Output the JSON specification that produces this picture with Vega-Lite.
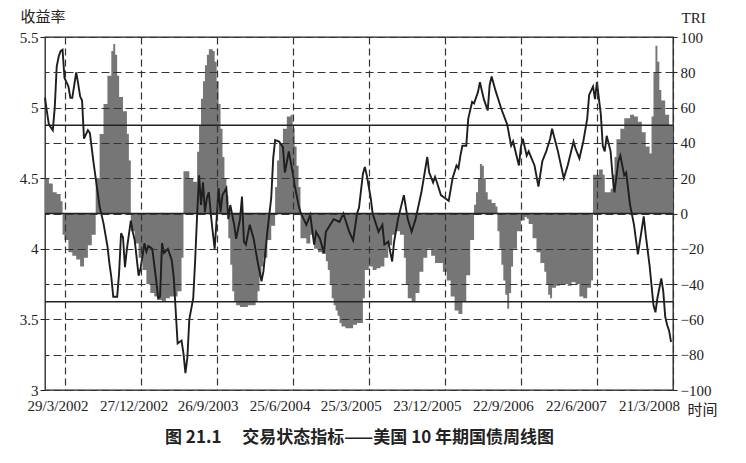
{
  "$schema": "https://vega.github.io/schema/vega-lite/v6.json",
  "width": 628,
  "height": 353,
  "autosize": {"type": "none"},
  "padding": {"left": 45, "top": 37, "right": 73, "bottom": 73},
  "background": "white",
  "title": {
    "text": "图 21.1　 交易状态指标——美国 10 年期国债周线图",
    "orient": "bottom",
    "anchor": "start",
    "frame": "group",
    "dx": 120,
    "offset": 13,
    "font": "Noto Sans CJK SC",
    "fontSize": 17,
    "fontWeight": "bold",
    "color": "#222"
  },
  "datasets": {
    "yield": [
      {"d": "2002-01-18", "v": 5.07}, {"d": "2002-01-25", "v": 4.97}, {"d": "2002-02-01", "v": 4.88},
      {"d": "2002-02-15", "v": 4.84}, {"d": "2002-02-22", "v": 5.00}, {"d": "2002-03-01", "v": 5.29},
      {"d": "2002-03-08", "v": 5.36}, {"d": "2002-03-15", "v": 5.40}, {"d": "2002-03-22", "v": 5.41},
      {"d": "2002-03-29", "v": 5.21}, {"d": "2002-04-05", "v": 5.18}, {"d": "2002-04-12", "v": 5.15},
      {"d": "2002-04-19", "v": 5.07}, {"d": "2002-04-26", "v": 5.07}, {"d": "2002-05-10", "v": 5.25},
      {"d": "2002-05-17", "v": 5.17}, {"d": "2002-05-24", "v": 5.08}, {"d": "2002-05-31", "v": 5.05},
      {"d": "2002-06-07", "v": 4.78}, {"d": "2002-06-21", "v": 4.84}, {"d": "2002-06-28", "v": 4.82},
      {"d": "2002-07-12", "v": 4.60}, {"d": "2002-07-26", "v": 4.40}, {"d": "2002-08-02", "v": 4.30},
      {"d": "2002-08-16", "v": 4.18}, {"d": "2002-08-30", "v": 4.02}, {"d": "2002-09-06", "v": 3.90},
      {"d": "2002-09-13", "v": 3.80}, {"d": "2002-09-20", "v": 3.66}, {"d": "2002-10-04", "v": 3.66},
      {"d": "2002-10-11", "v": 3.83}, {"d": "2002-10-18", "v": 4.11}, {"d": "2002-10-25", "v": 4.08},
      {"d": "2002-11-01", "v": 3.87}, {"d": "2002-11-08", "v": 4.00}, {"d": "2002-11-22", "v": 4.20},
      {"d": "2002-11-29", "v": 4.12}, {"d": "2002-12-06", "v": 4.06}, {"d": "2002-12-20", "v": 3.81},
      {"d": "2002-12-27", "v": 3.86}, {"d": "2003-01-10", "v": 4.04}, {"d": "2003-01-17", "v": 3.98},
      {"d": "2003-01-24", "v": 4.02}, {"d": "2003-02-07", "v": 4.00}, {"d": "2003-02-21", "v": 3.78},
      {"d": "2003-02-28", "v": 3.65}, {"d": "2003-03-07", "v": 3.66}, {"d": "2003-03-14", "v": 4.04},
      {"d": "2003-03-21", "v": 3.97}, {"d": "2003-04-04", "v": 4.00}, {"d": "2003-04-18", "v": 3.92},
      {"d": "2003-04-25", "v": 3.80}, {"d": "2003-05-09", "v": 3.33}, {"d": "2003-05-23", "v": 3.35},
      {"d": "2003-05-30", "v": 3.26}, {"d": "2003-06-06", "v": 3.12}, {"d": "2003-06-13", "v": 3.23},
      {"d": "2003-06-20", "v": 3.50}, {"d": "2003-07-04", "v": 3.65}, {"d": "2003-07-11", "v": 3.92},
      {"d": "2003-07-18", "v": 4.24}, {"d": "2003-07-25", "v": 4.52}, {"d": "2003-08-01", "v": 4.31},
      {"d": "2003-08-08", "v": 4.47}, {"d": "2003-08-15", "v": 4.26}, {"d": "2003-08-22", "v": 4.36},
      {"d": "2003-08-29", "v": 4.40}, {"d": "2003-09-05", "v": 4.25}, {"d": "2003-09-12", "v": 4.12},
      {"d": "2003-09-19", "v": 4.00}, {"d": "2003-09-26", "v": 4.21}, {"d": "2003-10-03", "v": 4.43},
      {"d": "2003-10-10", "v": 4.26}, {"d": "2003-10-17", "v": 4.38}, {"d": "2003-10-31", "v": 4.43},
      {"d": "2003-11-07", "v": 4.21}, {"d": "2003-11-14", "v": 4.31}, {"d": "2003-11-28", "v": 4.17},
      {"d": "2003-12-05", "v": 4.07}, {"d": "2003-12-19", "v": 4.21}, {"d": "2003-12-26", "v": 4.37},
      {"d": "2004-01-02", "v": 4.05}, {"d": "2004-01-09", "v": 4.03}, {"d": "2004-01-23", "v": 4.17},
      {"d": "2004-02-06", "v": 4.07}, {"d": "2004-02-20", "v": 3.91}, {"d": "2004-03-05", "v": 3.77},
      {"d": "2004-03-12", "v": 3.84}, {"d": "2004-03-26", "v": 4.12}, {"d": "2004-04-09", "v": 4.36},
      {"d": "2004-04-16", "v": 4.64}, {"d": "2004-04-23", "v": 4.77}, {"d": "2004-05-07", "v": 4.76},
      {"d": "2004-05-21", "v": 4.72}, {"d": "2004-05-28", "v": 4.54}, {"d": "2004-06-11", "v": 4.69},
      {"d": "2004-06-25", "v": 4.54}, {"d": "2004-07-02", "v": 4.45}, {"d": "2004-07-16", "v": 4.31},
      {"d": "2004-07-23", "v": 4.26}, {"d": "2004-08-13", "v": 4.17}, {"d": "2004-08-27", "v": 4.24},
      {"d": "2004-09-10", "v": 4.03}, {"d": "2004-09-17", "v": 4.12}, {"d": "2004-10-01", "v": 4.07},
      {"d": "2004-10-15", "v": 3.97}, {"d": "2004-10-22", "v": 4.12}, {"d": "2004-11-19", "v": 4.21},
      {"d": "2004-12-10", "v": 4.19}, {"d": "2004-12-24", "v": 4.25}, {"d": "2005-01-14", "v": 4.12},
      {"d": "2005-01-28", "v": 4.06}, {"d": "2005-02-11", "v": 4.25}, {"d": "2005-02-18", "v": 4.29},
      {"d": "2005-03-04", "v": 4.53}, {"d": "2005-03-11", "v": 4.58}, {"d": "2005-03-18", "v": 4.52},
      {"d": "2005-04-01", "v": 4.36}, {"d": "2005-04-08", "v": 4.25}, {"d": "2005-04-29", "v": 4.12},
      {"d": "2005-05-13", "v": 4.17}, {"d": "2005-05-20", "v": 4.03}, {"d": "2005-06-03", "v": 4.05},
      {"d": "2005-06-17", "v": 3.91}, {"d": "2005-06-24", "v": 4.05}, {"d": "2005-07-08", "v": 4.21},
      {"d": "2005-07-29", "v": 4.38}, {"d": "2005-08-12", "v": 4.21}, {"d": "2005-08-26", "v": 4.12},
      {"d": "2005-09-09", "v": 4.21}, {"d": "2005-09-30", "v": 4.40}, {"d": "2005-10-21", "v": 4.65},
      {"d": "2005-10-28", "v": 4.54}, {"d": "2005-11-11", "v": 4.47}, {"d": "2005-11-18", "v": 4.51},
      {"d": "2005-11-25", "v": 4.47}, {"d": "2005-12-09", "v": 4.38}, {"d": "2005-12-23", "v": 4.36},
      {"d": "2006-01-06", "v": 4.34}, {"d": "2006-01-20", "v": 4.50}, {"d": "2006-02-03", "v": 4.59},
      {"d": "2006-02-10", "v": 4.57}, {"d": "2006-02-17", "v": 4.66}, {"d": "2006-02-24", "v": 4.73},
      {"d": "2006-03-10", "v": 4.73}, {"d": "2006-03-17", "v": 4.92}, {"d": "2006-03-31", "v": 5.04},
      {"d": "2006-04-07", "v": 5.03}, {"d": "2006-04-21", "v": 5.11}, {"d": "2006-04-28", "v": 5.18},
      {"d": "2006-05-12", "v": 5.06}, {"d": "2006-05-26", "v": 4.98}, {"d": "2006-06-02", "v": 5.16},
      {"d": "2006-06-09", "v": 5.22}, {"d": "2006-06-23", "v": 5.12}, {"d": "2006-07-14", "v": 4.99},
      {"d": "2006-08-04", "v": 4.88}, {"d": "2006-08-18", "v": 4.73}, {"d": "2006-08-25", "v": 4.76},
      {"d": "2006-09-15", "v": 4.59}, {"d": "2006-09-22", "v": 4.72}, {"d": "2006-09-29", "v": 4.78},
      {"d": "2006-10-13", "v": 4.66}, {"d": "2006-10-20", "v": 4.69}, {"d": "2006-11-10", "v": 4.59},
      {"d": "2006-11-24", "v": 4.44}, {"d": "2006-12-08", "v": 4.62}, {"d": "2006-12-22", "v": 4.69},
      {"d": "2007-01-05", "v": 4.78}, {"d": "2007-01-12", "v": 4.85}, {"d": "2007-02-02", "v": 4.69},
      {"d": "2007-02-23", "v": 4.50}, {"d": "2007-03-09", "v": 4.59}, {"d": "2007-03-30", "v": 4.76},
      {"d": "2007-04-06", "v": 4.71}, {"d": "2007-04-20", "v": 4.64}, {"d": "2007-05-04", "v": 4.76},
      {"d": "2007-05-18", "v": 4.92}, {"d": "2007-05-25", "v": 5.09}, {"d": "2007-06-08", "v": 5.15},
      {"d": "2007-06-15", "v": 5.06}, {"d": "2007-06-22", "v": 5.18}, {"d": "2007-07-06", "v": 4.95},
      {"d": "2007-07-13", "v": 4.73}, {"d": "2007-07-20", "v": 4.69}, {"d": "2007-07-27", "v": 4.80},
      {"d": "2007-08-10", "v": 4.69}, {"d": "2007-08-17", "v": 4.52}, {"d": "2007-08-24", "v": 4.40},
      {"d": "2007-09-07", "v": 4.62}, {"d": "2007-09-14", "v": 4.66}, {"d": "2007-09-28", "v": 4.52},
      {"d": "2007-10-05", "v": 4.54}, {"d": "2007-10-19", "v": 4.31}, {"d": "2007-11-02", "v": 4.17},
      {"d": "2007-11-16", "v": 3.96}, {"d": "2007-12-07", "v": 4.23}, {"d": "2007-12-14", "v": 4.10},
      {"d": "2007-12-28", "v": 3.88}, {"d": "2008-01-11", "v": 3.60}, {"d": "2008-01-18", "v": 3.55},
      {"d": "2008-01-25", "v": 3.65}, {"d": "2008-02-08", "v": 3.79}, {"d": "2008-02-15", "v": 3.70},
      {"d": "2008-02-22", "v": 3.52}, {"d": "2008-02-29", "v": 3.46}, {"d": "2008-03-07", "v": 3.42},
      {"d": "2008-03-14", "v": 3.34}
    ],
    "tri": [
      {"d": "2002-01-18", "v": 20}, {"d": "2002-02-01", "v": 17}, {"d": "2002-02-15", "v": 12},
      {"d": "2002-03-01", "v": 11}, {"d": "2002-03-15", "v": 7}, {"d": "2002-03-22", "v": -12},
      {"d": "2002-03-29", "v": -15}, {"d": "2002-04-12", "v": -22}, {"d": "2002-04-26", "v": -24},
      {"d": "2002-05-10", "v": -26}, {"d": "2002-05-24", "v": -30}, {"d": "2002-06-07", "v": -25},
      {"d": "2002-06-21", "v": -18}, {"d": "2002-07-05", "v": -12}, {"d": "2002-07-19", "v": 20},
      {"d": "2002-08-02", "v": 45}, {"d": "2002-08-16", "v": 62}, {"d": "2002-08-30", "v": 78},
      {"d": "2002-09-13", "v": 92}, {"d": "2002-09-20", "v": 96}, {"d": "2002-09-27", "v": 90},
      {"d": "2002-10-04", "v": 78}, {"d": "2002-10-11", "v": 66}, {"d": "2002-10-25", "v": 58},
      {"d": "2002-11-08", "v": 45}, {"d": "2002-11-15", "v": 30}, {"d": "2002-11-22", "v": -10},
      {"d": "2002-12-06", "v": -17}, {"d": "2002-12-20", "v": -25}, {"d": "2003-01-03", "v": -32},
      {"d": "2003-01-17", "v": -40}, {"d": "2003-01-31", "v": -45}, {"d": "2003-02-14", "v": -47},
      {"d": "2003-02-28", "v": -49}, {"d": "2003-03-14", "v": -50}, {"d": "2003-03-28", "v": -48},
      {"d": "2003-04-11", "v": -47}, {"d": "2003-04-25", "v": -47}, {"d": "2003-05-09", "v": -44},
      {"d": "2003-05-23", "v": -25}, {"d": "2003-05-30", "v": 24}, {"d": "2003-06-20", "v": 20},
      {"d": "2003-07-04", "v": 18}, {"d": "2003-07-18", "v": 35}, {"d": "2003-07-25", "v": 50},
      {"d": "2003-08-01", "v": 65}, {"d": "2003-08-08", "v": 75}, {"d": "2003-08-15", "v": 84},
      {"d": "2003-08-22", "v": 90}, {"d": "2003-08-29", "v": 93}, {"d": "2003-09-12", "v": 92},
      {"d": "2003-09-19", "v": 86}, {"d": "2003-09-26", "v": 75}, {"d": "2003-10-03", "v": 62},
      {"d": "2003-10-10", "v": 48}, {"d": "2003-10-17", "v": 32}, {"d": "2003-10-24", "v": 20},
      {"d": "2003-10-31", "v": 10}, {"d": "2003-11-07", "v": -14}, {"d": "2003-11-14", "v": -29},
      {"d": "2003-11-21", "v": -44}, {"d": "2003-11-28", "v": -50}, {"d": "2003-12-05", "v": -52},
      {"d": "2003-12-19", "v": -53}, {"d": "2004-01-02", "v": -53}, {"d": "2004-01-16", "v": -52},
      {"d": "2004-01-30", "v": -52}, {"d": "2004-02-13", "v": -50}, {"d": "2004-02-20", "v": -44},
      {"d": "2004-02-27", "v": -36}, {"d": "2004-03-05", "v": -30}, {"d": "2004-03-12", "v": -25},
      {"d": "2004-03-26", "v": -15}, {"d": "2004-04-09", "v": -7}, {"d": "2004-04-23", "v": 15},
      {"d": "2004-04-30", "v": 30}, {"d": "2004-05-07", "v": 40}, {"d": "2004-05-21", "v": 48},
      {"d": "2004-06-04", "v": 55}, {"d": "2004-06-18", "v": 56}, {"d": "2004-06-25", "v": 48},
      {"d": "2004-07-02", "v": 38}, {"d": "2004-07-09", "v": 27}, {"d": "2004-07-16", "v": 15},
      {"d": "2004-07-23", "v": -14}, {"d": "2004-08-13", "v": -17}, {"d": "2004-08-27", "v": -12},
      {"d": "2004-09-10", "v": -20}, {"d": "2004-09-24", "v": -22}, {"d": "2004-10-08", "v": -23},
      {"d": "2004-10-22", "v": -27}, {"d": "2004-10-29", "v": -32}, {"d": "2004-11-05", "v": -40},
      {"d": "2004-11-12", "v": -48}, {"d": "2004-11-19", "v": -52}, {"d": "2004-11-26", "v": -55},
      {"d": "2004-12-03", "v": -58}, {"d": "2004-12-10", "v": -62}, {"d": "2004-12-17", "v": -64},
      {"d": "2004-12-31", "v": -65}, {"d": "2005-01-14", "v": -65}, {"d": "2005-01-28", "v": -63},
      {"d": "2005-02-11", "v": -62}, {"d": "2005-02-25", "v": -62}, {"d": "2005-03-04", "v": -48},
      {"d": "2005-03-11", "v": -32}, {"d": "2005-03-25", "v": -30}, {"d": "2005-04-08", "v": -32},
      {"d": "2005-04-22", "v": -31}, {"d": "2005-05-06", "v": -30}, {"d": "2005-05-20", "v": -25},
      {"d": "2005-06-03", "v": -18}, {"d": "2005-06-17", "v": -12}, {"d": "2005-07-01", "v": -10},
      {"d": "2005-07-15", "v": -12}, {"d": "2005-07-29", "v": -25}, {"d": "2005-08-05", "v": -40},
      {"d": "2005-08-12", "v": -48}, {"d": "2005-08-26", "v": -50}, {"d": "2005-09-09", "v": -45},
      {"d": "2005-09-23", "v": -33}, {"d": "2005-10-07", "v": -25}, {"d": "2005-10-21", "v": -20},
      {"d": "2005-11-04", "v": -24}, {"d": "2005-11-18", "v": -28}, {"d": "2005-12-02", "v": -28},
      {"d": "2005-12-16", "v": -33}, {"d": "2005-12-30", "v": -38}, {"d": "2006-01-13", "v": -47},
      {"d": "2006-01-27", "v": -55}, {"d": "2006-02-10", "v": -57}, {"d": "2006-02-24", "v": -50},
      {"d": "2006-03-10", "v": -35}, {"d": "2006-03-24", "v": -15}, {"d": "2006-04-07", "v": 5},
      {"d": "2006-04-14", "v": 12}, {"d": "2006-04-21", "v": 20}, {"d": "2006-04-28", "v": 28},
      {"d": "2006-05-05", "v": 27}, {"d": "2006-05-12", "v": 20}, {"d": "2006-05-19", "v": 12},
      {"d": "2006-05-26", "v": 8}, {"d": "2006-06-09", "v": 6}, {"d": "2006-06-23", "v": 4},
      {"d": "2006-06-30", "v": -10}, {"d": "2006-07-07", "v": -20}, {"d": "2006-07-14", "v": -29},
      {"d": "2006-07-21", "v": -38}, {"d": "2006-07-28", "v": -46}, {"d": "2006-08-04", "v": -54},
      {"d": "2006-08-11", "v": -45}, {"d": "2006-08-18", "v": -30}, {"d": "2006-08-25", "v": -20},
      {"d": "2006-09-08", "v": -10}, {"d": "2006-09-22", "v": -4}, {"d": "2006-10-06", "v": -2},
      {"d": "2006-10-13", "v": -3}, {"d": "2006-10-20", "v": -6}, {"d": "2006-11-03", "v": -14},
      {"d": "2006-11-17", "v": -22}, {"d": "2006-12-01", "v": -28}, {"d": "2006-12-15", "v": -33},
      {"d": "2006-12-22", "v": -40}, {"d": "2006-12-29", "v": -46}, {"d": "2007-01-05", "v": -48},
      {"d": "2007-01-12", "v": -42}, {"d": "2007-01-26", "v": -41}, {"d": "2007-02-09", "v": -40},
      {"d": "2007-02-23", "v": -40}, {"d": "2007-03-09", "v": -41}, {"d": "2007-03-23", "v": -39},
      {"d": "2007-04-06", "v": -40}, {"d": "2007-04-20", "v": -47}, {"d": "2007-05-04", "v": -48},
      {"d": "2007-05-18", "v": -42}, {"d": "2007-06-01", "v": -38}, {"d": "2007-06-08", "v": 22},
      {"d": "2007-06-29", "v": 25}, {"d": "2007-07-13", "v": 22}, {"d": "2007-07-20", "v": 12},
      {"d": "2007-08-10", "v": 14}, {"d": "2007-08-17", "v": 22}, {"d": "2007-08-24", "v": 32},
      {"d": "2007-08-31", "v": 42}, {"d": "2007-09-14", "v": 48}, {"d": "2007-09-28", "v": 54},
      {"d": "2007-10-19", "v": 56}, {"d": "2007-11-02", "v": 55}, {"d": "2007-11-16", "v": 52},
      {"d": "2007-11-30", "v": 46}, {"d": "2007-12-14", "v": 38}, {"d": "2007-12-28", "v": 34},
      {"d": "2008-01-04", "v": 55}, {"d": "2008-01-11", "v": 80}, {"d": "2008-01-18", "v": 95},
      {"d": "2008-01-25", "v": 86}, {"d": "2008-02-01", "v": 70}, {"d": "2008-02-08", "v": 64},
      {"d": "2008-02-22", "v": 56}, {"d": "2008-03-07", "v": 50}, {"d": "2008-03-21", "v": 50}
    ]
  },
  "layer": [
    {
      "data": {"name": "tri"},
      "mark": {"type": "area", "interpolate": "step-after", "color": "#767676", "opacity": 1},
      "encoding": {
        "x": {
          "field": "d",
          "type": "temporal",
          "scale": {
            "type": "utc",
            "domain": [
              {"year": 2002, "month": 1, "date": 18, "utc": true},
              {"year": 2008, "month": 3, "date": 21, "utc": true}
            ]
          },
          "axis": {
            "values": [
              {"year": 2002, "month": 3, "date": 29, "utc": true},
              {"year": 2002, "month": 12, "date": 27, "utc": true},
              {"year": 2003, "month": 9, "date": 26, "utc": true},
              {"year": 2004, "month": 6, "date": 25, "utc": true},
              {"year": 2005, "month": 3, "date": 25, "utc": true},
              {"year": 2005, "month": 12, "date": 23, "utc": true},
              {"year": 2006, "month": 9, "date": 22, "utc": true},
              {"year": 2007, "month": 6, "date": 22, "utc": true},
              {"year": 2008, "month": 3, "date": 21, "utc": true}
            ],
            "format": "%-d/%-m/%Y",
            "title": "时间",
            "titleFont": "Noto Sans CJK SC",
            "titleFontSize": 15,
            "titleFontWeight": "normal",
            "titleColor": "#222",
            "titleX": 642,
            "titleY": 19,
            "titleAlign": "left",
            "titleBaseline": "middle",
            "labelFont": "Liberation Serif, DejaVu Serif, serif",
            "labelFontSize": 15,
            "labelColor": "#222",
            "labelPadding": 8,
            "labelFlush": false,
            "labelOverlap": false,
            "labelOffset": {
              "condition": [
                {"test": "datum.value < utc(2003,5,1)", "value": -7},
                {"test": "datum.value < utc(2004,1,1)", "value": -9},
                {"test": "datum.value < utc(2004,11,1)", "value": -13},
                {"test": "datum.value < utc(2007,1,1)", "value": -18},
                {"test": "datum.value < utc(2007,11,1)", "value": -21}
              ],
              "value": -24
            },
            "tickSize": 0,
            "domain": false,
            "grid": true,
            "gridDash": [7, 4],
            "gridColor": "#333",
            "gridWidth": 1.2,
            "zindex": 1
          }
        },
        "y": {
          "field": "v",
          "type": "quantitative",
          "scale": {"domain": [-100, 100], "nice": false},
          "axis": {
            "orient": "right",
            "values": [-100, -80, -60, -40, -20, 0, 20, 40, 60, 80, 100],
            "format": "d",
            "title": "TRI",
            "titleAngle": 0,
            "titleX": 8,
            "titleY": -20,
            "titleAlign": "left",
            "titleBaseline": "middle",
            "titleFont": "Liberation Serif, DejaVu Serif, serif",
            "titleFontSize": 15,
            "titleFontWeight": "normal",
            "titleColor": "#222",
            "labelFont": "Liberation Serif, DejaVu Serif, serif",
            "labelFontSize": 15,
            "labelColor": "#222",
            "labelPadding": 3,
            "tickSize": 4,
            "tickColor": "#222",
            "domain": false,
            "grid": true,
            "gridDash": [8, 4],
            "gridColor": "#333",
            "gridWidth": 1.2,
            "zindex": 1
          }
        },
        "y2": {"datum": 0}
      }
    },
    {
      "data": {"values": [{"level": 50}, {"level": 0}, {"level": -50}]},
      "mark": {"type": "rule", "color": "#222", "strokeWidth": 1.3},
      "encoding": {
        "y": {
          "field": "level",
          "type": "quantitative",
          "scale": {"domain": [-100, 100], "nice": false},
          "axis": null
        }
      }
    },
    {
      "data": {"name": "yield"},
      "mark": {"type": "line", "color": "#1e1e1e", "strokeWidth": 1.9},
      "encoding": {
        "x": {
          "field": "d",
          "type": "temporal",
          "scale": {
            "type": "utc",
            "domain": [
              {"year": 2002, "month": 1, "date": 18, "utc": true},
              {"year": 2008, "month": 3, "date": 21, "utc": true}
            ]
          }
        },
        "y": {
          "field": "v",
          "type": "quantitative",
          "scale": {"domain": [3, 5.5], "nice": false, "zero": false},
          "axis": {
            "orient": "left",
            "values": [3, 3.5, 4, 4.5, 5, 5.5],
            "format": "~g",
            "title": "收益率",
            "titleAngle": 0,
            "titleX": -25,
            "titleY": -21,
            "titleAlign": "left",
            "titleBaseline": "middle",
            "titleFont": "Noto Sans CJK SC",
            "titleFontSize": 15,
            "titleFontWeight": "normal",
            "titleColor": "#222",
            "labelFont": "Liberation Serif, DejaVu Serif, serif",
            "labelFontSize": 15,
            "labelColor": "#222",
            "labelPadding": 2,
            "tickSize": 5,
            "tickColor": "#222",
            "domain": false,
            "grid": false
          }
        }
      }
    }
  ],
  "resolve": {"scale": {"y": "independent"}},
  "config": {
    "view": {"stroke": "#222", "strokeWidth": 1.3}
  }
}
